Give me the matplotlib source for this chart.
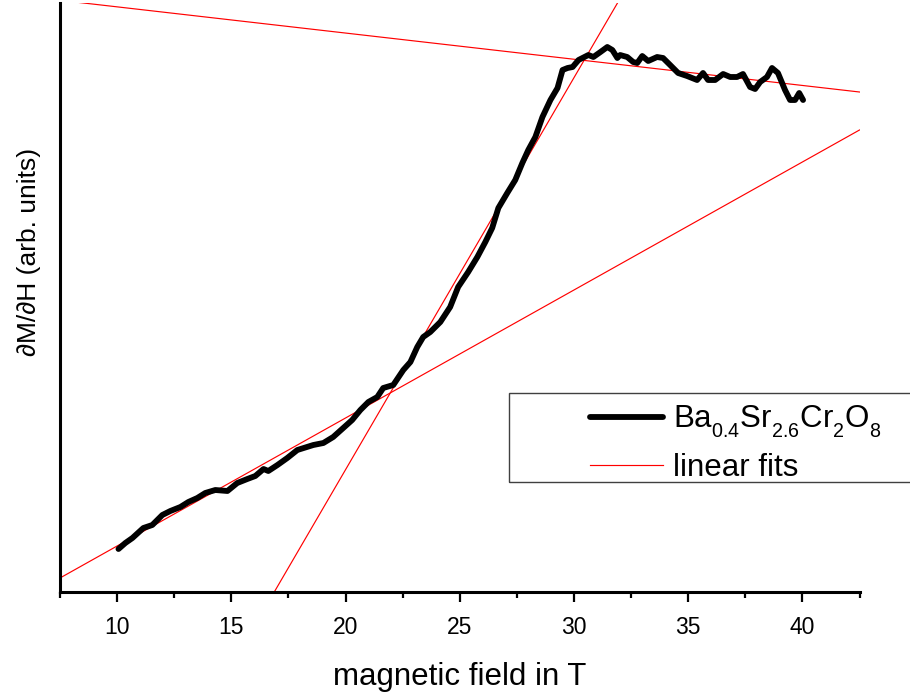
import numpy as np
import matplotlib
matplotlib.use('Agg')
import matplotlib.pyplot as plt
from matplotlib.patches import Rectangle

plt.rcParams['font.family'] = ['Liberation Sans', 'DejaVu Sans']
plt.rcParams['mathtext.fontset'] = 'custom'
plt.rcParams['mathtext.rm'] = 'Liberation Sans'
plt.rcParams['mathtext.it'] = 'Liberation Sans:italic'

# Smaller, lower subscripts (like the original plotting program)
try:
    import matplotlib._mathtext as _mt
    _mt.SHRINK_FACTOR = 0.63
    _mt.FontConstantsBase.sub1 = 0.6
except Exception:
    pass

#
# dM/dH curve of Ba0.4Sr2.6Cr2O8 (arb. units)
#
field_T = [10.06, 10.36, 10.67, 11.15, 11.54, 11.98, 12.33, 12.77, 13.12, 13.51,
           13.86, 14.30, 14.83, 15.26, 15.70, 16.05, 16.41, 16.62, 17.02, 17.45,
           17.89, 18.59, 19.03, 19.46, 19.90, 20.29, 20.65, 21.00, 21.39, 21.65,
           22.09, 22.53, 22.84, 23.14, 23.40, 23.71, 24.15, 24.58, 24.93, 25.37,
           25.77, 26.12, 26.42, 26.69, 27.08, 27.43, 27.74, 28.00, 28.31, 28.62,
           28.97, 29.28, 29.50, 29.72, 29.94, 30.20, 30.63, 30.85, 31.16, 31.46,
           31.68, 31.90, 32.02, 32.33, 32.59, 32.77, 32.99, 33.25, 33.64, 33.90,
           34.21, 34.56, 34.95, 35.39, 35.65, 35.87, 36.18, 36.53, 36.84, 37.14,
           37.40, 37.71, 37.93, 38.15, 38.45, 38.67, 38.93, 39.24, 39.46, 39.68,
           39.86, 40.03]
dmdh = [0.43, 0.49, 0.54, 0.64, 0.67, 0.77, 0.81, 0.85, 0.90, 0.94,
        0.99, 1.02, 1.01, 1.09, 1.13, 1.16, 1.23, 1.21, 1.27, 1.34,
        1.42, 1.47, 1.49, 1.55, 1.64, 1.72, 1.82, 1.90, 1.95, 2.04,
        2.07, 2.22, 2.30, 2.45, 2.55, 2.60, 2.70, 2.85, 3.05, 3.20,
        3.35, 3.50, 3.64, 3.84, 3.99, 4.12, 4.29, 4.42, 4.55, 4.75,
        4.92, 5.04, 5.22, 5.24, 5.25, 5.32, 5.37, 5.35, 5.40, 5.45,
        5.42, 5.34, 5.37, 5.35, 5.30, 5.29, 5.36, 5.31, 5.35, 5.34,
        5.27, 5.19, 5.16, 5.12, 5.19, 5.12, 5.12, 5.18, 5.15, 5.15,
        5.18, 5.05, 5.03, 5.10, 5.15, 5.24, 5.19, 5.02, 4.92, 4.92,
        4.99, 4.92]

#
# Linear fits: slope and a reference point (x0, y0)
#
fit_slopes = [0.128, 0.392, -0.0262]
fit_x0 = [7.5, 16.88, 42.5]
fit_y0 = [0.14, 0.0, 5.00]

xmin, xmax = 7.5, 42.5
ymin, ymax = 0.0, 5.89

fig = plt.figure(figsize=(9.1, 6.95), dpi=100)
ax = fig.add_axes([60 / 910, 103 / 695, 799.5 / 910, 589 / 695])

# fits first, so the data sits on top
xfit = np.array([xmin, xmax])
for i, (m, x0, y0) in enumerate(zip(fit_slopes, fit_x0, fit_y0)):
    ax.plot(xfit, y0 + m * (xfit - x0), color='#ff0000', linewidth=0.85,
            label='linear fits' if i == 0 else None, zorder=2)

ax.plot(field_T, dmdh, color='k', linewidth=4.2, solid_joinstyle='round',
        solid_capstyle='round', label=r'Ba$_{0.4}$Sr$_{2.6}$Cr$_2$O$_8$', zorder=3)

ax.set_xlim(xmin, xmax)
ax.set_ylim(ymin, ymax)

# Format axes
ax.spines['top'].set_visible(False)
ax.spines['right'].set_visible(False)
ax.spines['left'].set_linewidth(2.2)
ax.spines['bottom'].set_linewidth(2.2)
ax.set_yticks([])
ax.set_xticks(np.arange(10, 41, 5))
ax.set_xticks(np.arange(7.5, 43, 5), minor=True)
ax.tick_params(axis='x', which='major', length=7.5, width=1.6, labelsize=16.5, pad=10)
ax.tick_params(axis='x', which='minor', length=4.5, width=1.6)

ax.set_xlabel('magnetic field in T', fontsize=22.5, labelpad=16)
ax.set_ylabel('\u2202M/\u2202H (arb. units)', fontsize=19)
ax.yaxis.set_label_coords(-0.024, 0.578)

# Legend, reordered: data first, fits second
handles, labels = ax.get_legend_handles_labels()
leg = ax.legend([handles[1], handles[0]], [labels[1], labels[0]],
                loc='upper left', bbox_to_anchor=(590 / 910, 1 - 404 / 695),
                bbox_transform=fig.transFigure, frameon=False, fontsize=22.5,
                borderpad=0, borderaxespad=0, handlelength=2.32,
                handletextpad=0.33, labelspacing=0.4)

# legend box runs off the right edge of the figure
fig.patches.append(Rectangle((509 / 910, 1 - 482 / 695), 0.5, 89 / 695,
                             transform=fig.transFigure, fill=False,
                             edgecolor='#404040', linewidth=1.0))

fig.savefig('out.png', dpi=100)
